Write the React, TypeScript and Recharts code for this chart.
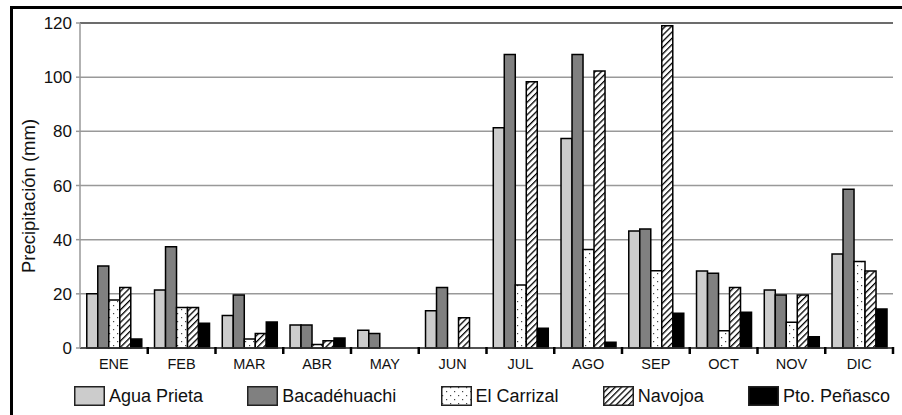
import React from 'react';
import { BarChart, Bar, XAxis, YAxis, CartesianGrid, ReferenceLine } from 'recharts';

const months = ['ENE', 'FEB', 'MAR', 'ABR', 'MAY', 'JUN', 'JUL', 'AGO', 'SEP', 'OCT', 'NOV', 'DIC'];
const aguaPrieta = [20, 21.4, 12, 8.5, 6.6, 13.8, 81.3, 77.4, 43.2, 28.4, 21.4, 34.7];
const bacadehuachi = [30.3, 37.4, 19.6, 8.5, 5.4, 22.3, 108.4, 108.4, 43.9, 27.6, 19.6, 58.6];
const elCarrizal = [17.7, 15, 3.3, 1.3, 0, 0, 23.3, 36.4, 28.5, 6.4, 9.5, 31.9];
const navojoa = [22.3, 15, 5.4, 2.7, 0, 11.2, 98.3, 102.3, 119, 22.3, 19.6, 28.4];
const ptoPenasco = [3.3, 9.1, 9.6, 3.7, 0, 0, 7.3, 2.1, 12.8, 13.2, 4.2, 14.4];
const yTicks = [0, 20, 40, 60, 80, 100, 120];

const series = [
  { key: 'ap', name: 'Agua Prieta', values: aguaPrieta, fill: '#cccccc' },
  { key: 'bac', name: 'Bacadéhuachi', values: bacadehuachi, fill: '#808080' },
  { key: 'ec', name: 'El Carrizal', values: elCarrizal, fill: 'url(#dots)' },
  { key: 'nav', name: 'Navojoa', values: navojoa, fill: 'url(#hatch)' },
  { key: 'pto', name: 'Pto. Peñasco', values: ptoPenasco, fill: '#000000' },
];

const data = months.map((m, i) => {
  const row: any = { month: m };
  series.forEach((s) => (row[s.key] = s.values[i]));
  return row;
});

const W = 902;
const H = 415;
const LEFT = 80;
const RIGHT = 9;
const FONT = '"Liberation Sans", Arial, Helvetica, sans-serif';
const band = (W - LEFT - RIGHT) / months.length;

const XTick = (props: any) => {
  const { x, y, payload, index } = props;
  return (
    <g>
      {index > 0 && (
        <line x1={x - band / 2} x2={x - band / 2} y1={y - 1} y2={y + 6} stroke="#000" strokeWidth={2.5} />
      )}
      {index === months.length - 1 && (
        <line x1={x + band / 2} x2={x + band / 2} y1={y - 1} y2={y + 6} stroke="#000" strokeWidth={2.5} />
      )}
      <text x={x} y={y + 21} textAnchor="middle" fontSize={14.5} fontFamily={FONT} fill="#111">
        {payload.value}
      </text>
    </g>
  );
};

const Defs = () => (
  <svg width={0} height={0} style={{ position: 'absolute' }}>
    <defs>
      <pattern id="dots" width={8} height={8} patternUnits="userSpaceOnUse">
        <rect width={8} height={8} fill="#fff" />
        <rect x={1} y={1} width={1.2} height={1.2} fill="#444" />
        <rect x={5} y={5} width={1.2} height={1.2} fill="#444" />
      </pattern>
      <pattern id="hatch" width={4.4} height={10} patternUnits="userSpaceOnUse" patternTransform="rotate(45)">
        <rect width={4.4} height={10} fill="#fff" />
        <rect x={0} y={0} width={1.3} height={10} fill="#000" />
      </pattern>
    </defs>
  </svg>
);

export default function App() {
  return (
    <div style={{ position: 'relative', width: W, height: H, overflow: 'hidden', background: '#fff', fontFamily: FONT }}>
      <style>{`body{margin:0}`}</style>
      <Defs />
      <BarChart
        width={W}
        height={H}
        data={data}
        margin={{ top: 23, right: RIGHT, left: 0, bottom: 37 }}
        barCategoryGap="10%"
        barGap={0}
      >
        <CartesianGrid vertical={false} stroke="#999" strokeWidth={1.5} />
        <ReferenceLine y={120} stroke="#555" strokeWidth={1.5} />
        <XAxis
          dataKey="month"
          height={30}
          tickSize={0}
          tickMargin={0}
          tickLine={false}
          axisLine={{ stroke: '#333', strokeWidth: 1.5 }}
          tick={<XTick />}
          interval={0}
        />
        <YAxis
          width={LEFT}
          domain={[0, 120]}
          ticks={yTicks}
          interval={0}
          tickSize={4}
          tickMargin={4}
          axisLine={{ stroke: '#999', strokeWidth: 1.5 }}
          tickLine={{ stroke: '#999', strokeWidth: 1.5 }}
          tick={{ fontSize: 17, fill: '#111', fontFamily: FONT }}
          label={{
            content: () => (
              <text
                x={28}
                y={196}
                transform="rotate(-90 28 196)"
                textAnchor="middle"
                dominantBaseline="central"
                fontSize={18.5}
                fontFamily={FONT}
                fill="#111"
              >
                Precipitación (mm)
              </text>
            ),
          }}
        />
        {series.map((s) => (
          <Bar key={s.key} dataKey={s.key} name={s.name} fill={s.fill} stroke="#000" strokeWidth={1.5} isAnimationActive={false} />
        ))}
      </BarChart>
      <div
        style={{
          position: 'absolute',
          left: 74,
          top: 385,
          width: 816,
          height: 21,
          display: 'flex',
          justifyContent: 'space-between',
          alignItems: 'center',
        }}
      >
        {series.map((s) => (
          <div key={s.key} style={{ display: 'flex', alignItems: 'center' }}>
            <svg width={31} height={20} style={{ display: 'block' }}>
              <rect x={0.75} y={0.75} width={29.5} height={18.5} fill={s.fill} stroke="#222" strokeWidth={1.5} />
            </svg>
            <span style={{ marginLeft: 4, fontSize: 18, color: '#111', lineHeight: '20px' }}>{s.name}</span>
          </div>
        ))}
      </div>
      <div
        style={{
          position: 'absolute',
          left: 10,
          top: 6,
          width: 1000,
          height: 1000,
          borderLeft: '3px solid #000',
          borderTop: '3px solid #000',
          pointerEvents: 'none',
        }}
      />
    </div>
  );
}
